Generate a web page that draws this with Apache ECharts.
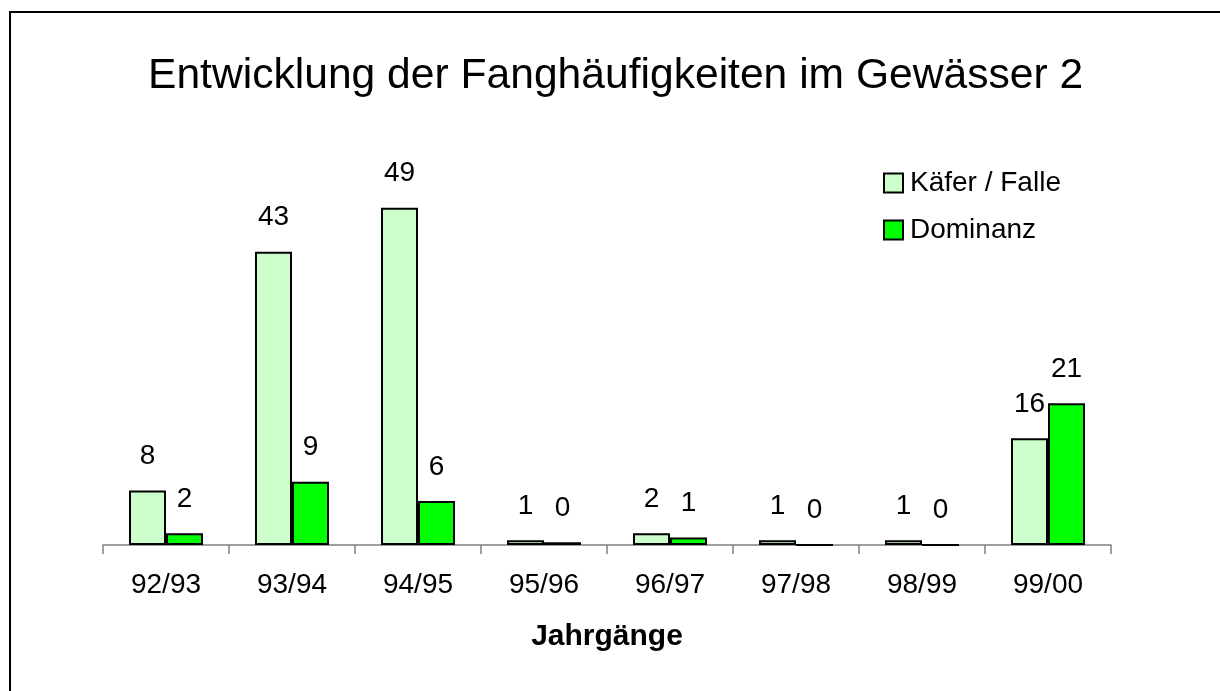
<!DOCTYPE html>
<html>
<head>
<meta charset="utf-8">
<script src="https://cdn.jsdelivr.net/npm/echarts@6/dist/echarts.min.js"></script>
<style>
  html, body { margin: 0; padding: 0; background: #fff; }
  #chart { width: 1220px; height: 691px; }
</style>
</head>
<body>
<div id="chart"></div>
<script>
const FONT = '"Liberation Sans", Arial, sans-serif'

const jahrgaenge = ['92/93', '93/94', '94/95', '95/96', '96/97', '97/98', '98/99', '99/00']
const kaeferProFalle = [7.9, 42.6, 49, 0.7, 1.7, 0.7, 0.7, 15.5]
const dominanz = [1.7, 9.2, 6.4, 0.4, 1.1, 0, 0, 20.6]

const barLabel = {
  show: true,
  position: 'top',
  distance: 20,
  fontFamily: FONT,
  fontSize: 28,
  color: '#000',
  formatter: (p) => Math.round(p.value)
}

const chart = echarts.init(document.getElementById('chart'))

chart.setOption({
  animation: false,
  backgroundColor: '#fff',
  title: {
    text: 'Entwicklung der Fanghäufigkeiten im Gewässer 2',
    left: 143,
    top: 50,
    textStyle: { fontFamily: FONT, fontSize: 42.6, fontWeight: 'normal', color: '#000' }
  },
  legend: {
    orient: 'vertical',
    left: 878,
    top: 164,
    itemWidth: 19,
    itemHeight: 19,
    itemGap: 19,
    icon: 'rect',
    textStyle: { fontFamily: FONT, fontSize: 28, color: '#000', padding: [0, 0, 0, 2] }
  },
  grid: { left: 103, right: 109, top: 132, bottom: 146 },
  xAxis: {
    type: 'category',
    data: jahrgaenge,
    name: 'Jahrgänge',
    nameLocation: 'middle',
    nameGap: 77,
    nameTextStyle: { fontFamily: FONT, fontSize: 30, fontWeight: 'bold', color: '#000' },
    axisLine: { lineStyle: { color: '#808080', width: 1.5 } },
    axisTick: { show: true, length: 9, lineStyle: { color: '#808080', width: 1.5 } },
    axisLabel: { margin: 26, fontFamily: FONT, fontSize: 28, color: '#000' }
  },
  yAxis: {
    type: 'value',
    min: 0,
    max: 60,
    show: false,
    splitLine: { show: false }
  },
  series: [
    {
      name: 'Käfer / Falle',
      type: 'bar',
      data: kaeferProFalle,
      barWidth: 37,
      barGap: '0%',
      itemStyle: { color: '#ccffcc', borderColor: '#000', borderWidth: 2 },
      label: barLabel
    },
    {
      name: 'Dominanz',
      type: 'bar',
      data: dominanz,
      barWidth: 37,
      itemStyle: { color: '#00ff00', borderColor: '#000', borderWidth: 2 },
      label: barLabel
    }
  ],
  graphic: [
    {
      type: 'rect',
      shape: { x: 10, y: 12, width: 1300, height: 800 },
      style: { fill: 'none', stroke: '#000', lineWidth: 2 },
      silent: true
    }
  ]
})
</script>
</body>
</html>
